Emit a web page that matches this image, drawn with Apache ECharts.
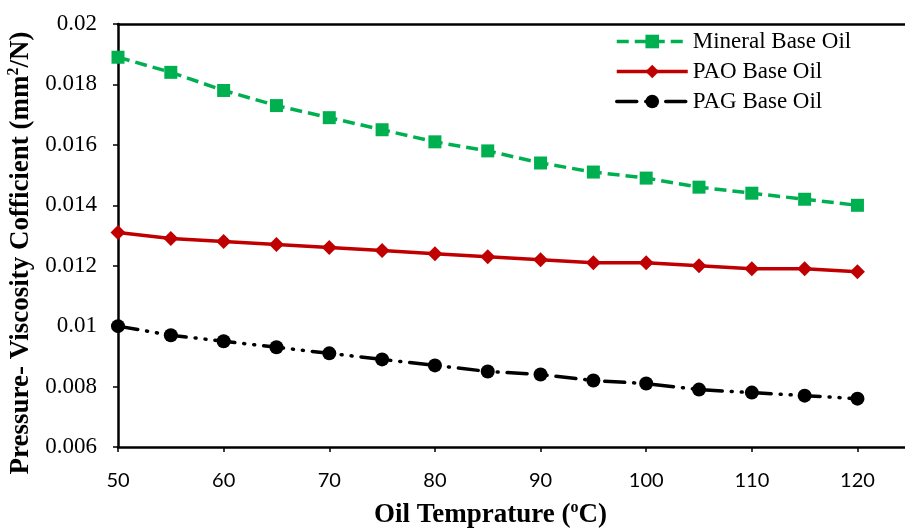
<!DOCTYPE html>
<html>
<head>
<meta charset="utf-8">
<script src="https://cdn.jsdelivr.net/npm/echarts@6/dist/echarts.min.js"></script>
<style>
  html, body { margin: 0; padding: 0; background: #fff; }
  #chart { width: 905px; height: 528px; }
</style>
</head>
<body>
<div id="chart"></div>
<script>
// 油温 (°C)
var temps = [50, 55, 60, 65, 70, 75, 80, 85, 90, 95, 100, 105, 110, 115, 120];
var mineral = [0.0189, 0.0184, 0.0178, 0.0173, 0.0169, 0.0165, 0.0161, 0.0158, 0.0154, 0.0151, 0.0149, 0.0146, 0.0144, 0.0142, 0.0140];
var pao = [0.0131, 0.0129, 0.0128, 0.0127, 0.0126, 0.0125, 0.0124, 0.0123, 0.0122, 0.0121, 0.0121, 0.0120, 0.0119, 0.0119, 0.0118];
var pag = [0.0100, 0.0097, 0.0095, 0.0093, 0.0091, 0.0089, 0.0087, 0.0085, 0.0084, 0.0082, 0.0081, 0.0079, 0.0078, 0.0077, 0.0076];
var names = ["Mineral Base Oil", "PAO Base Oil", "PAG Base Oil"];

function pairs(ys) {
  return temps.map(function (t, i) { return [t, ys[i]]; });
}

var serif = "Liberation Serif";
var titleRich = {
  b: { fontFamily: serif, fontWeight: "bold", fontSize: 27, color: "#000", lineHeight: 30 },
  s: { fontFamily: serif, fontWeight: "bold", fontSize: 16, color: "#000", verticalAlign: "top", lineHeight: 30 }
};
var chart = echarts.init(document.getElementById("chart"));
var option = {
  animation: false,
  grid: { left: 118, right: 0, top: 24, bottom: 81, outerBoundsMode: "none" },
  legend: {
    orient: "vertical",
    left: 610,
    top: 25,
    itemWidth: 71,
    itemHeight: 17,
    itemGap: 7,
    data: names,
    lineStyle: { width: 3.5 },
    textStyle: { fontFamily: serif, fontSize: 23, color: "#000" }
  },
  xAxis: [
    {
      type: "value",
      min: 50,
      max: 124.5,
      interval: 10,
      splitLine: { show: false },
      axisLine: { lineStyle: { color: "#000", width: 2.5 } },
      axisTick: { inside: false, length: 5, lineStyle: { color: "#000", width: 1.5 } },
      axisLabel: { showMaxLabel: false, margin: 24, fontFamily: "Lato", fontSize: 20, color: "#000" },
      name: "{b|Oil Temprature (}{s|o}{b|C)}",
      nameLocation: "middle",
      nameGap: 53,
      nameTextStyle: { padding: [0, 42, 0, 0], rich: titleRich }
    },
    {
      type: "value",
      position: "top",
      min: 50,
      max: 124.5,
      axisLine: { show: true, lineStyle: { color: "#000", width: 2.5 } },
      axisTick: { show: false },
      axisLabel: { show: false },
      splitLine: { show: false }
    }
  ],
  yAxis: {
    type: "value",
    min: 0.006,
    max: 0.02,
    interval: 0.002,
    splitLine: { show: false },
    axisLine: { show: true, lineStyle: { color: "#000", width: 2.5 } },
    axisTick: { show: true, inside: false, length: 5, lineStyle: { color: "#000", width: 1.5 } },
    axisLabel: { margin: 21, fontFamily: serif, fontSize: 23, color: "#000" },
    name: "{b|Pressure- Viscosity Cofficient (mm}{s|2}{b|/N)}",
    nameLocation: "middle",
    nameRotate: 90,
    nameGap: 80,
    nameTextStyle: { padding: [0, 35, 0, 0], rich: titleRich }
  },
  series: [
    {
      name: names[0],
      type: "line",
      data: pairs(mineral),
      symbol: "rect",
      symbolSize: 13,
      itemStyle: { color: "#00B050" },
      lineStyle: { color: "#00B050", width: 3.5, type: [12, 6] }
    },
    {
      name: names[1],
      type: "line",
      data: pairs(pao),
      symbol: "diamond",
      symbolSize: 15,
      itemStyle: { color: "#C00000" },
      lineStyle: { color: "#C00000", width: 3.5 }
    },
    {
      name: names[2],
      type: "line",
      data: pairs(pag),
      symbol: "circle",
      symbolSize: 14,
      itemStyle: { color: "#000" },
      lineStyle: { color: "#000", width: 3.5, type: [20, 9, 1, 9, 1, 9], cap: "round" }
    }
  ]
};
chart.setOption(option);
</script>
</body>
</html>
